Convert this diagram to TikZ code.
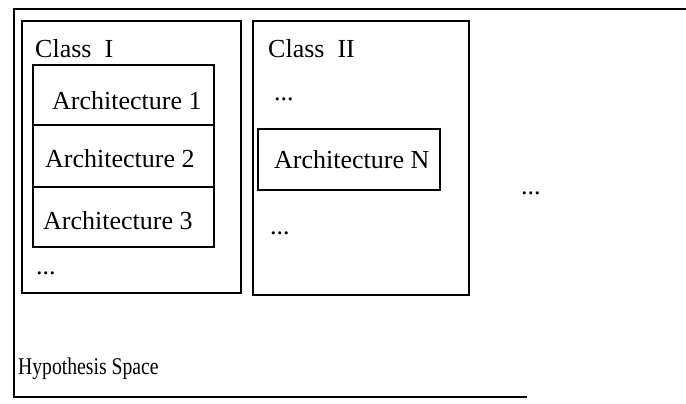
\documentclass[tikz,border=0pt]{standalone}
\usepackage{graphicx}
\usepackage{fontspec}
\setmainfont{Liberation Serif}
\begin{document}
\begin{tikzpicture}[x=1pt,y=1pt,
    frame/.style={draw=black, line width=1.6pt, rectangle, inner sep=0pt, anchor=south west},
    lbl/.style={anchor=base west, inner sep=0pt, font=\fontsize{26}{30}\selectfont}]
  \useasboundingbox[fill=white] (0,0) rectangle (686,404);

  % hypothesis space: open on the right
  \coordinate (hsTR) at (686,395);
  \coordinate (hsTL) at (14,395);
  \coordinate (hsBL) at (14,7);
  \coordinate (hsBR) at (527,7);
  \draw[line width=1.6pt] (hsTR) -- (hsTL) -- (hsBL) -- (hsBR);

  % class boxes
  \node[frame, minimum width=219pt, minimum height=272pt] (c1) at (21,110) {};
  \node[frame, minimum width=216pt, minimum height=274pt] (c2) at (252,108) {};

  % architecture stack in class I
  \node[frame, minimum width=181pt, minimum height=60pt] (a1) at (32,278) {};
  \node[frame, minimum width=181pt, minimum height=62pt] (a2) at (32,216) {};
  \node[frame, minimum width=181pt, minimum height=60pt] (a3) at (32,156) {};

  % architecture N in class II
  \node[frame, minimum width=182pt, minimum height=61pt] (aN) at (257,213) {};

  % labels
  \node[lbl] (t1) at (35,346) {Class~~I};
  \node[lbl] (t2) at (52,294) {Architecture 1};
  \node[lbl] (t3) at (45,236) {Architecture 2};
  \node[lbl] (t4) at (43,174) {Architecture 3};
  \node[lbl] (t5) at (36,129) {...};
  \node[lbl] (t6) at (268,346) {Class~~II};
  \node[lbl] (t7) at (274,303) {...};
  \node[lbl] (t8) at (274,235) {Architecture N};
  \node[lbl] (t9) at (270,169) {...};
  \node[lbl] (t10) at (521,209) {...};
  \node[lbl, font=\fontsize{24}{28}\selectfont] (t11) at (18,29) {\scalebox{0.82}[1]{Hypothesis Space}};
\end{tikzpicture}
\end{document}
